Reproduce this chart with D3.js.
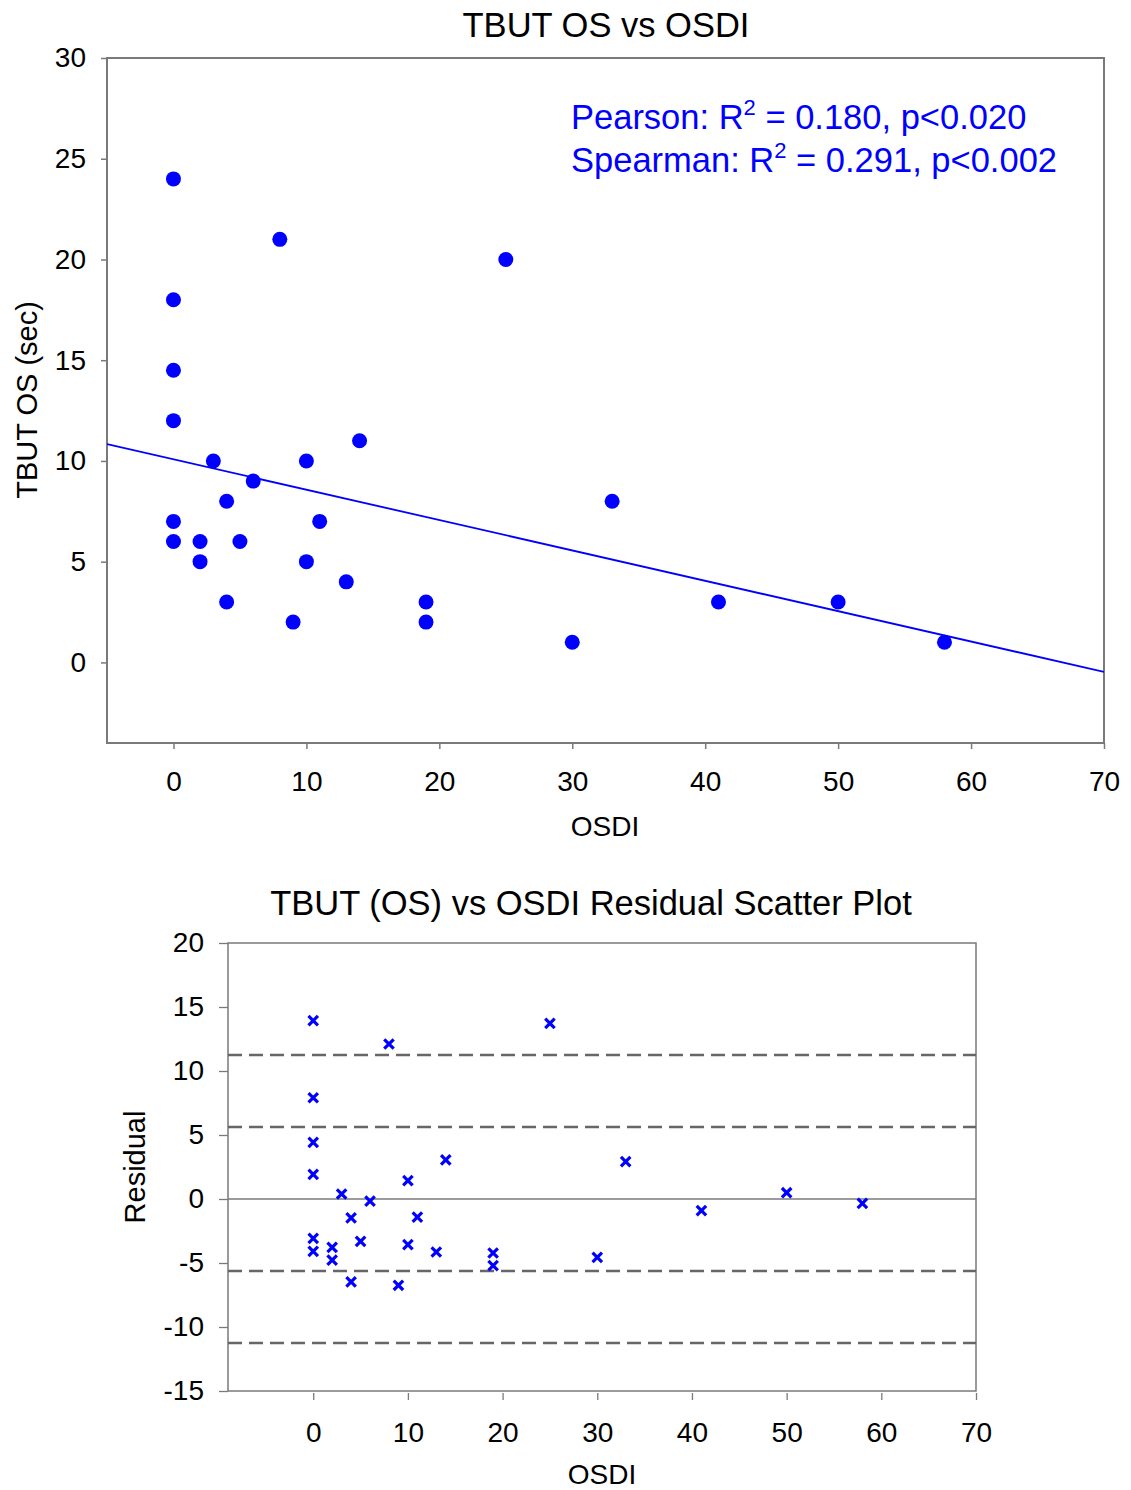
<!DOCTYPE html>
<html>
<head>
<meta charset="utf-8">
<script src="https://cdn.jsdelivr.net/npm/d3@7"></script>
<style>
  html, body { margin: 0; padding: 0; background: #fff; }
  svg { display: block; font-family: "Liberation Sans", Arial, sans-serif; }
</style>
</head>
<body>
<svg id="chart" width="1131" height="1490"></svg>
<script>
// ---------- data ----------
const osdi     = [0, 8, 25, 0, 0, 0, 14, 3, 10, 6, 4, 33, 0, 11, 0, 2, 5, 2, 10, 13, 4, 19, 41, 50, 9, 19, 30, 58];
const tbutOS   = [24, 21, 20, 18, 14.5, 12, 11, 10, 10, 9, 8, 8, 7, 7, 6, 6, 6, 5, 5, 4, 3, 3, 3, 3, 2, 2, 1, 1];
const residual = [13.93, 12.11, 13.72, 7.91, 4.43, 1.93, 3.05, 0.39, 1.43, -0.16, -1.48, 2.92, -3.07, -1.41,
                  -4.09, -3.78, -3.31, -4.77, -3.57, -4.14, -6.48, -4.22, -0.91, 0.49, -6.74, -5.21, -4.56, -0.34];
const fitIntercept = 10.08;
const fitSlope = -0.1507;
const sdBands = [11.25, 5.63, -5.63, -11.25];
const topXTicks = [0, 10, 20, 30, 40, 50, 60, 70];
const topYTicks = [0, 5, 10, 15, 20, 25, 30];
const botXTicks = [0, 10, 20, 30, 40, 50, 60, 70];
const botYTicks = [-15, -10, -5, 0, 5, 10, 15, 20];
const statsLines = [
  { label: "Pearson: R", tail: " = 0.180, p<0.020" },
  { label: "Spearman: R", tail: " = 0.291, p<0.002" }
];

const svg = d3.select("#chart");
const axisColor = "#7a7a7a";
const blue = "#0000ff";
const plainFmt = d => String(d);

// ---------- top chart ----------
const T = { left: 107, right: 1104, top: 58, bottom: 743 };
const xT = d3.scaleLinear().domain([-5, 70]).range([T.left, T.right]);
const yT = d3.scaleLinear().domain([-4, 30]).range([T.bottom, T.top]);

svg.append("text").attr("x", 606).attr("y", 37).attr("text-anchor", "middle")
  .attr("font-size", 34.5).attr("fill", "#000").text("TBUT OS vs OSDI");

svg.append("defs").append("clipPath").attr("id", "clipTop")
  .append("rect").attr("x", T.left).attr("y", T.top)
  .attr("width", T.right - T.left).attr("height", T.bottom - T.top);

svg.append("rect").attr("x", T.left).attr("y", T.top)
  .attr("width", T.right - T.left).attr("height", T.bottom - T.top)
  .attr("fill", "none").attr("stroke", axisColor).attr("stroke-width", 2);

const gxT = svg.append("g").attr("transform", `translate(0,${T.bottom})`)
  .call(d3.axisBottom(xT).tickValues(topXTicks).tickFormat(plainFmt).tickSize(6).tickPadding(22));
const gyT = svg.append("g").attr("transform", `translate(${T.left},0)`)
  .call(d3.axisLeft(yT).tickValues(topYTicks).tickFormat(plainFmt).tickSize(6).tickPadding(15));
[gxT, gyT].forEach(g => {
  g.select(".domain").remove();
  g.selectAll(".tick line").attr("stroke", axisColor).attr("stroke-width", 1.5);
  g.selectAll(".tick text").attr("font-size", 28).attr("fill", "#000")
    .attr("font-family", '"Liberation Sans", Arial, sans-serif');
});

svg.append("text").attr("x", 605).attr("y", 836).attr("text-anchor", "middle")
  .attr("font-size", 28).text("OSDI");
svg.append("text").attr("transform", "translate(37,400) rotate(-90)").attr("text-anchor", "middle")
  .attr("font-size", 29).text("TBUT OS (sec)");

// regression line
const fitX = xT.domain();
svg.append("line").attr("clip-path", "url(#clipTop)")
  .attr("x1", xT(fitX[0])).attr("y1", yT(fitIntercept + fitSlope * fitX[0]))
  .attr("x2", xT(fitX[1])).attr("y2", yT(fitIntercept + fitSlope * fitX[1]))
  .attr("stroke", blue).attr("stroke-width", 1.8);

svg.append("g").selectAll("circle").data(d3.range(osdi.length)).join("circle")
  .attr("cx", i => xT(osdi[i])).attr("cy", i => yT(tbutOS[i])).attr("r", 7.5)
  .attr("fill", blue);

// stats text
const stats = svg.append("g").attr("fill", blue).attr("font-size", 34.5);
statsLines.forEach((s, i) => {
  const t = stats.append("text").attr("x", 571).attr("y", 129 + i * 43);
  t.append("tspan").text(s.label);
  t.append("tspan").attr("dy", -14).attr("font-size", 22).text("2");
  t.append("tspan").attr("dy", 14).text(s.tail);
});

// ---------- bottom chart ----------
const B = { left: 228, right: 976, top: 943, bottom: 1391 };
const xB = d3.scaleLinear().domain([-9, 70]).range([B.left, B.right]);
const yB = d3.scaleLinear().domain([-15, 20]).range([B.bottom, B.top]);

svg.append("text").attr("x", 591).attr("y", 915).attr("text-anchor", "middle")
  .attr("font-size", 34.5).text("TBUT (OS) vs OSDI Residual Scatter Plot");

svg.append("rect").attr("x", B.left).attr("y", B.top)
  .attr("width", B.right - B.left).attr("height", B.bottom - B.top)
  .attr("fill", "none").attr("stroke", axisColor).attr("stroke-width", 1.5);

// zero line
svg.append("line").attr("x1", B.left).attr("x2", B.right)
  .attr("y1", yB(0)).attr("y2", yB(0)).attr("stroke", axisColor).attr("stroke-width", 1.3);

// SD bands
svg.append("g").selectAll("line").data(sdBands).join("line")
  .attr("x1", B.left).attr("x2", B.right)
  .attr("y1", d => yB(d)).attr("y2", d => yB(d))
  .attr("stroke", "#666").attr("stroke-width", 2.4).attr("stroke-dasharray", "14,7");

const gxB = svg.append("g").attr("transform", `translate(0,${B.bottom + 2})`)
  .call(d3.axisBottom(xB).tickValues(botXTicks).tickFormat(plainFmt).tickSize(7).tickPadding(22));
const gyB = svg.append("g").attr("transform", `translate(${B.left},0)`)
  .call(d3.axisLeft(yB).tickValues(botYTicks).tickFormat(plainFmt).tickSize(9).tickPadding(15));
[gxB, gyB].forEach(g => {
  g.select(".domain").remove();
  g.selectAll(".tick line").attr("stroke", axisColor).attr("stroke-width", 1.3);
  g.selectAll(".tick text").attr("font-size", 28).attr("fill", "#000")
    .attr("font-family", '"Liberation Sans", Arial, sans-serif');
});

svg.append("text").attr("x", 602).attr("y", 1484).attr("text-anchor", "middle")
  .attr("font-size", 28).text("OSDI");
svg.append("text").attr("transform", "translate(145,1167) rotate(-90)").attr("text-anchor", "middle")
  .attr("font-size", 29).text("Residual");

const xMark = d3.symbol().type(d3.symbolTimes).size(60);
svg.append("g").selectAll("path").data(d3.range(osdi.length)).join("path")
  .attr("transform", i => `translate(${xB(osdi[i])},${yB(residual[i])})`)
  .attr("d", xMark).attr("fill", "none").attr("stroke", blue).attr("stroke-width", 3.2);
</script>
</body>
</html>
